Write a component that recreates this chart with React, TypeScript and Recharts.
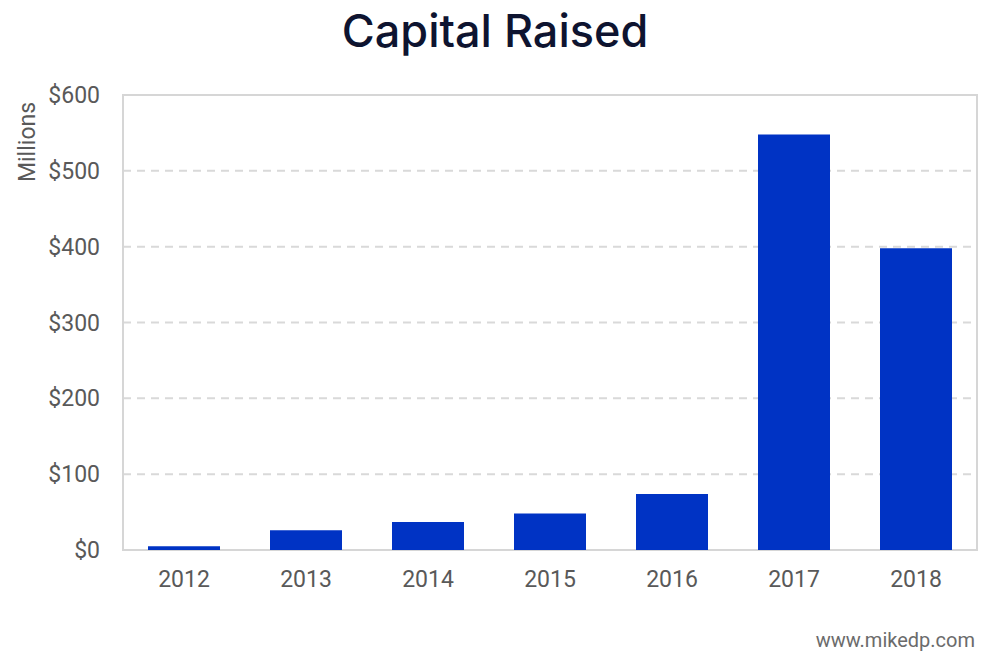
import React from 'react';
import { BarChart, Bar, XAxis, YAxis, CartesianGrid, ReferenceArea } from 'recharts';

const years = ['2012', '2013', '2014', '2015', '2016', '2017', '2018'];
const capital = [5, 26, 37, 48, 74, 548, 398];
const yTicks = [0, 100, 200, 300, 400, 500, 600];

const data = years.map((y, i) => ({ year: y, value: capital[i] }));

const tickFont = { fontFamily: 'Roboto', fontSize: 23, fill: '#595959' };

export default function App() {
  return (
    <div style={{ position: 'absolute', left: 0, top: 0, width: 984, height: 656, background: '#fff' }}>
      <div style={{ position: 'absolute', left: 0, top: 0 }}>
        <BarChart
          width={984}
          height={656}
          data={data}
          margin={{ top: 95, right: 7, bottom: 0, left: 0 }}
          barCategoryGap={25}
        >
          <CartesianGrid vertical={false} stroke="#d9d9d9" strokeWidth={2} strokeDasharray="8 6" />
          <XAxis
            dataKey="year"
            height={106}
            axisLine={false}
            tickLine={false}
            tickSize={0}
            tickMargin={21}
            tick={tickFont}
          />
          <YAxis
            width={123}
            domain={[0, 600]}
            ticks={yTicks}
            tickFormatter={(v: number) => `$${v}`}
            axisLine={false}
            tickLine={false}
            tickSize={0}
            tickMargin={23}
            tick={tickFont}
            interval={0}
          />
          <ReferenceArea y1={0} y2={600} fill="none" stroke="#d6d6d6" strokeWidth={2} fillOpacity={0} ifOverflow="visible" />
          <Bar dataKey="value" fill="#0033c4" isAnimationActive={false} />
        </BarChart>
      </div>
      <svg width={984} height={656} style={{ position: 'absolute', left: 0, top: 0, pointerEvents: 'none' }}>
        <text
          x={495}
          y={47}
          textAnchor="middle"
          fontFamily="Inter"
          fontSize={45}
          fontWeight={500}
          fill="#0e1430"
        >
          Capital Raised
        </text>
        <text
          x={35}
          y={142}
          textAnchor="middle"
          fontFamily="Roboto"
          fontSize={23}
          fill="#595959"
          transform="rotate(-90, 35, 142)"
        >
          Millions
        </text>
        <text x={975} y={647} textAnchor="end" fontFamily="Roboto" fontSize={20} fill="#6b6b6b">
          www.mikedp.com
        </text>
      </svg>
    </div>
  );
}
